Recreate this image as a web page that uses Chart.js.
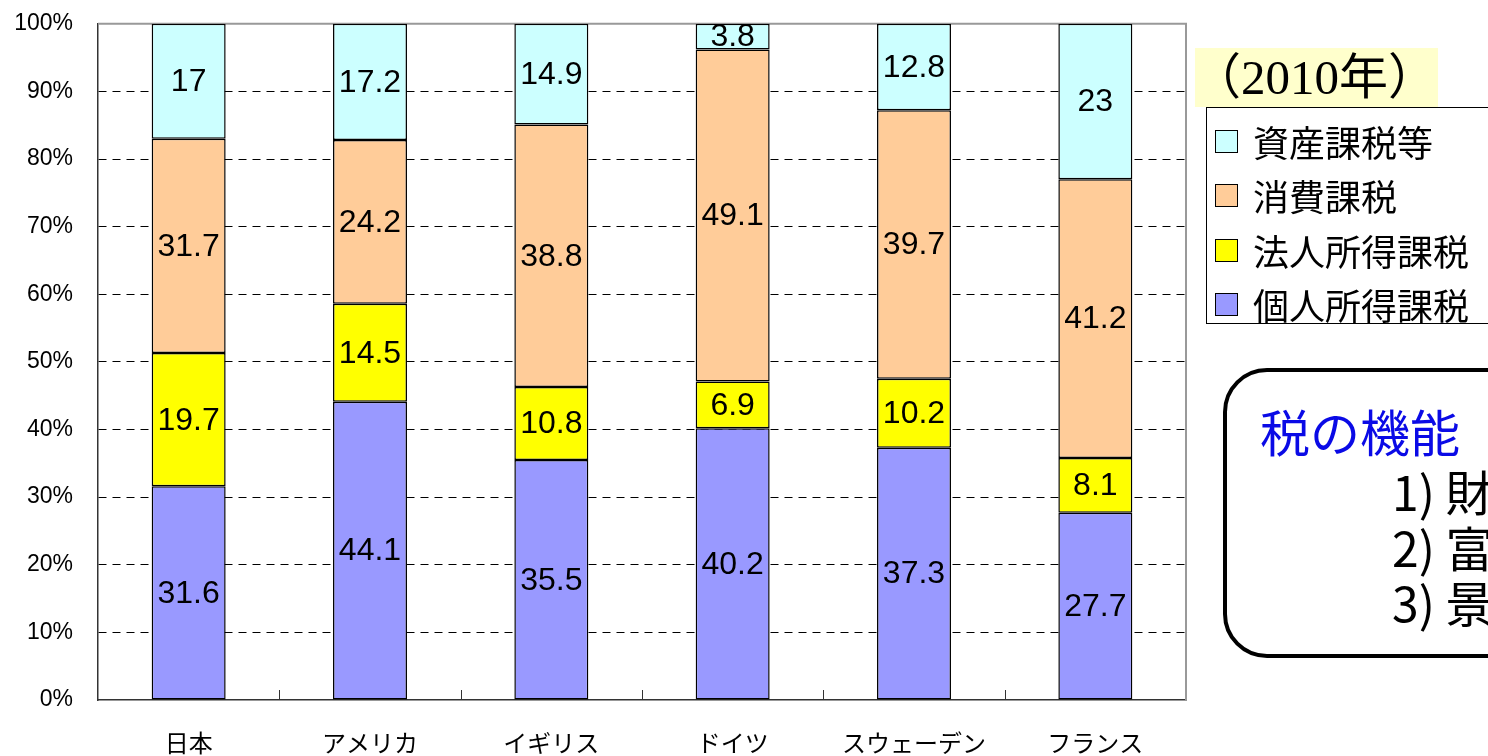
<!DOCTYPE html>
<html>
<head>
<meta charset="utf-8">
<script src="https://cdn.jsdelivr.net/npm/chart.js@4/dist/chart.umd.min.js"></script>
<style>
  html, body { margin: 0; padding: 0; background: #fff; overflow: hidden; width: 1488px; height: 756px; }
  #wrap { position: absolute; left: 0; top: -15px; width: 1488px; height: 771px; }
  #year { position: absolute; left: 1195px; top: 48px; width: 243px; height: 59px; background: #FFFFCC; z-index: 3; overflow: hidden;
          font-family: "Liberation Serif", "Noto Sans CJK JP", serif; font-size: 49px; line-height: 59px; color: #000; white-space: nowrap; }
  #year span { position: relative; left: -3px; }
  #legend { position: absolute; left: 1206px; top: 107px; width: 320px; height: 215px; border: 1px solid #000; background: #fff; z-index: 2; }
  .li { position: absolute; left: 8px; height: 40px; display: flex; align-items: center;
        font-family: "Noto Sans CJK JP", sans-serif; font-size: 36px; color: #000; white-space: nowrap; }
  .sw { width: 21px; height: 21px; border: 1.5px solid #000; margin-right: 15px; flex: none; }
  #box { position: absolute; left: 1223px; top: 368px; width: 330px; height: 282px; border: 4px solid #000; border-radius: 44px; background: #fff; }
  #box .t { position: absolute; left: 33px; top: 28px; font-family: "Noto Sans CJK JP", sans-serif; font-size: 50px; line-height: 60px; color: #0A0AE6; white-space: nowrap; }
  #box .l { position: absolute; left: 165px; font-family: "Noto Sans CJK JP", sans-serif; font-size: 48px; line-height: 56px; color: #000; white-space: nowrap; }
</style>
</head>
<body>
<div id="wrap"><canvas id="c"></canvas></div>
<div id="year"><span>（2010年）</span></div>
<div id="legend"></div>
<div id="box">
  <div class="t">税の機能</div>
  <div class="l" style="top:90px">1) 財源調達</div>
  <div class="l" style="top:146px">2) 富の再分配</div>
  <div class="l" style="top:201px">3) 景気の安定化</div>
</div>
<script>
const categories = ["日本", "アメリカ", "イギリス", "ドイツ", "スウェーデン", "フランス"];
const seriesNames = ["個人所得課税", "法人所得課税", "消費課税", "資産課税等"];
const kojinShotoku = [31.6, 44.1, 35.5, 40.2, 37.3, 27.7];
const hojinShotoku = [19.7, 14.5, 10.8, 6.9, 10.2, 8.1];
const shohi = [31.7, 24.2, 38.8, 49.1, 39.7, 41.2];
const shisan = [17, 17.2, 14.9, 3.8, 12.8, 23];
const yTicks = [0, 10, 20, 30, 40, 50, 60, 70, 80, 90, 100];
const colors = ["#9999FF", "#FFFF00", "#FFCC99", "#CCFFFF"];

const seriesValues = [kojinShotoku, hojinShotoku, shohi, shisan];

// HTML legend (reverse order as in reference)
const legendEl = document.getElementById('legend');
const legendTops = [13, 67, 122, 176];
[3, 2, 1, 0].forEach((idx, k) => {
  const d = document.createElement('div');
  d.className = 'li';
  d.style.top = legendTops[k] + 'px';
  d.innerHTML = '<div class="sw" style="background:' + colors[idx] + '"></div>' + seriesNames[idx];
  legendEl.appendChild(d);
});

const labelPlugin = {
  id: 'extras',
  beforeDatasetsDraw(chart) {
    const { ctx, chartArea: a } = chart;
    ctx.save();
    ctx.strokeStyle = '#999';
    ctx.lineWidth = 2;
    ctx.beginPath();
    ctx.moveTo(a.left, a.top);
    ctx.lineTo(a.right, a.top);
    ctx.lineTo(a.right, a.bottom);
    ctx.stroke();
    const xs = chart.scales.x;
    const step = (xs.getPixelForValue(1) - xs.getPixelForValue(0));
    ctx.strokeStyle = '#333';
    ctx.lineWidth = 1;
    for (let i = 1; i < categories.length; i++) {
      const px = Math.round(xs.getPixelForValue(i) - step / 2) + 0.5;
      ctx.beginPath();
      ctx.moveTo(px, a.bottom);
      ctx.lineTo(px, a.bottom - 10);
      ctx.stroke();
    }
    ctx.restore();
  },
  afterDatasetsDraw(chart) {
    const { ctx } = chart;
    ctx.save();
    ctx.fillStyle = '#000';
    ctx.font = '32px "Liberation Sans", Arial, sans-serif';
    ctx.textAlign = 'center';
    ctx.textBaseline = 'middle';
    chart.data.datasets.forEach((ds, di) => {
      const meta = chart.getDatasetMeta(di);
      meta.data.forEach((bar, i) => {
        const y = (bar.y + bar.base) / 2;
        ctx.fillText(String(ds.data[i]), bar.x, y + 1);
      });
    });
    ctx.restore();
  }
};

new Chart(document.getElementById('c'), {
  type: 'bar',
  data: {
    labels: categories,
    datasets: seriesValues.map((vals, i) => ({
      label: seriesNames[i],
      data: vals,
      backgroundColor: colors[i],
      borderColor: '#000',
      borderWidth: 1.5,
      borderSkipped: false,
      barPercentage: 0.408,
      categoryPercentage: 1.0
    }))
  },
  options: {
    responsive: true,
    maintainAspectRatio: false,
    animation: false,
    devicePixelRatio: 1,
    layout: { padding: { top: 9, right: 302, left: 0, bottom: 0 } },
    plugins: { legend: { display: false }, tooltip: { enabled: false } },
    scales: {
      x: {
        stacked: true,
        grid: { display: false, drawTicks: false },
        border: { display: true, color: '#333', width: 1.5 },
        ticks: { color: '#000', padding: 28, font: { family: '"Noto Sans CJK JP", sans-serif', size: 24 } },
        afterFit(s) { s.height = 56; }
      },
      y: {
        stacked: true,
        min: 0, max: 100,
        afterBuildTicks(s) { s.ticks = yTicks.map(v => ({ value: v })); },
        grid: {
          drawTicks: false,
          color: ctx => (ctx.tick && (ctx.tick.value === 0 || ctx.tick.value === 100)) ? 'rgba(0,0,0,0)' : '#000',
          lineWidth: 1
        },
        border: { display: true, color: '#333', width: 1.5, dash: [8, 6] },
        ticks: {
          color: '#000', padding: 25,
          font: { family: '"Liberation Sans", Arial, sans-serif', size: 23 },
          callback: v => v + '%'
        },
        afterFit(s) { s.width = 98; }
      }
    }
  },
  plugins: [labelPlugin]
});
</script>
</body>
</html>
